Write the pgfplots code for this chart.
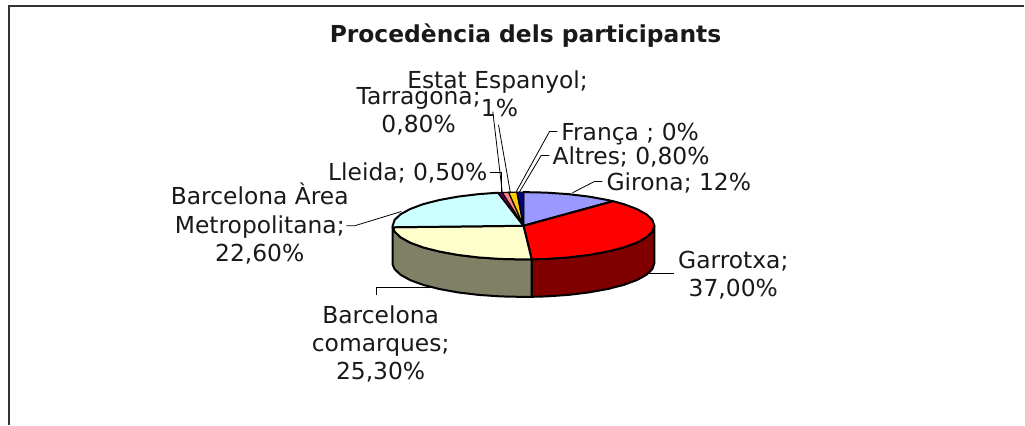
\documentclass[border=0pt]{standalone}
\usepackage{fontspec}
\setmainfont{DejaVu Sans}
\usepackage{pgfplots}
\pgfplotsset{compat=1.18}
\definecolor{cGirona}{HTML}{9999FF}
\definecolor{cGarrotxa}{HTML}{FF0000}
\definecolor{cGarrotxaS}{HTML}{800000}
\definecolor{cCom}{HTML}{FFFFCC}
\definecolor{cComS}{HTML}{808066}
\definecolor{cAM}{HTML}{CCFFFF}
\definecolor{cLleida}{HTML}{660066}
\definecolor{cTarr}{HTML}{FF8080}
\definecolor{cEstat}{HTML}{FFCC00}
\definecolor{cAltres}{HTML}{000080}
\definecolor{cFrame}{HTML}{333333}
\begin{document}
\begin{tikzpicture}[lab/.style={font=\fontsize{23.4}{28}\selectfont,inner sep=0pt,anchor=base,text=black!90}]
\begin{axis}[at={(0,0)},anchor=south west,scale only axis,width=1025pt,height=425pt,
  xmin=0,xmax=1025,ymin=0,ymax=425,y dir=reverse,hide axis,clip=false,
  slice/.style={draw=black,line width=2pt,line join=round},
  leader/.style={draw=black,line width=0.8pt,mark=none}]
% frame
\addplot[draw=cFrame,line width=2pt,mark=none] coordinates {(9,425)(9,6.5)(1025,6.5)};
% sides
\addplot[slice,fill=cGarrotxaS] coordinates {(655,226)(653,231.9)(647.1,237.5)(637.4,242.9)(624.3,247.7)(608.2,251.8)(589.5,255.2)(568.8,257.7)(546.7,259.2)(532.2,259.6)(532.2,297.1)(546.7,296.7)(568.8,295.2)(589.5,292.7)(608.2,289.3)(624.3,285.2)(637.4,280.4)(647.1,275)(653,269.4)(655,263.5)} --cycle;
\addplot[slice,fill=cComS] coordinates {(532.2,259.6)(524,259.7)(501.3,259.2)(479.2,257.7)(458.5,255.2)(439.8,251.8)(423.7,247.7)(410.6,242.9)(400.9,237.5)(395,231.9)(393.1,227.5)(393.1,265)(395,269.4)(400.9,275)(410.6,280.4)(423.7,285.2)(439.8,289.3)(458.5,292.7)(479.2,295.2)(501.3,296.7)(524,297.2)(532.2,297.1)} --cycle;
% top slices
\addplot[slice,fill=cGirona] coordinates {(524,226)(524,192.3)(546.7,192.8)(568.8,194.3)(589.5,196.8)(608.2,200.2)(613.7,201.4)} --cycle;
\addplot[slice,fill=cGarrotxa] coordinates {(524,226)(613.7,201.4)(624.3,204.3)(637.4,209.2)(647.1,214.5)(653,220.1)(655,226)(653,231.9)(647.1,237.5)(637.4,242.9)(624.3,247.7)(608.2,251.8)(589.5,255.2)(568.8,257.7)(546.7,259.2)(532.2,259.6)} --cycle;
\addplot[slice,fill=cCom] coordinates {(524,226)(532.2,259.6)(524,259.7)(501.3,259.2)(479.2,257.7)(458.5,255.2)(439.8,251.8)(423.7,247.7)(410.6,242.9)(400.9,237.5)(395,231.9)(393.1,227.5)} --cycle;
\addplot[slice,fill=cAM] coordinates {(524,226)(393.1,227.5)(393,226)(395,220.1)(400.9,214.5)(410.6,209.2)(423.7,204.3)(439.8,200.2)(458.5,196.8)(479.2,194.3)(498.6,192.9)} --cycle;
\addplot[draw=black,line width=1.2pt,fill=cLleida] coordinates {(524,226)(498.6,192.9)(502.7,192.7)} --cycle;
\addplot[draw=black,line width=1.2pt,fill=cTarr] coordinates {(524,226)(502.7,192.7)(509.2,192.5)} --cycle;
\addplot[draw=black,line width=1.2pt,fill=cEstat] coordinates {(524,226)(509.2,192.5)(517.4,192.3)} --cycle;
\addplot[draw=black,line width=1.2pt,fill=cAltres] coordinates {(524,226)(517.4,192.3)(524,192.3)} --cycle;
% leader lines
\addplot[leader] coordinates {(573,193)(595,181.7)(603,181.7)};
\addplot[leader] coordinates {(520,192)(541.7,155.7)(550,155.7)};
\addplot[leader] coordinates {(516.7,192)(550,131.7)(558,131.7)};
\addplot[leader] coordinates {(499,125)(510.7,192)};
\addplot[leader] coordinates {(493.3,111.7)(502.7,192)};
\addplot[leader] coordinates {(490,172.7)(501.7,172.7)(501.7,192)};
\addplot[leader] coordinates {(346.7,226)(355,226)(401.7,211.7)};
\addplot[leader] coordinates {(433,287.3)(376.7,287.3)(376.7,295)};
\addplot[leader] coordinates {(648,273.5)(675,273.5)};
% labels
\node[lab,font=\fontsize{23.4}{28}\selectfont\bfseries] at (axis cs:526,43) {Procedència dels participants};
\node[lab] at (axis cs:498,89) {Estat Espanyol;};
\node[lab] at (axis cs:500,117) {1\%};
\node[lab] at (axis cs:419,105) {Tarragona;};
\node[lab] at (axis cs:419,133) {0,80\%};
\node[lab,anchor=base west] at (axis cs:561.7,141) {França ; 0\%};
\node[lab,anchor=base west] at (axis cs:553,165) {Altres; 0,80\%};
\node[lab,anchor=base west] at (axis cs:607,191) {Girona; 12\%};
\node[lab,anchor=base east] at (axis cs:488,181) {Lleida; 0,50\%};
\node[lab] at (axis cs:260,205) {Barcelona Àrea};
\node[lab] at (axis cs:260,234) {Metropolitana;};
\node[lab] at (axis cs:260,262) {22,60\%};
\node[lab] at (axis cs:381,324) {Barcelona};
\node[lab] at (axis cs:381,352) {comarques;};
\node[lab] at (axis cs:381,380) {25,30\%};
\node[lab] at (axis cs:734,269) {Garrotxa;};
\node[lab] at (axis cs:734,297) {37,00\%};
\end{axis}
\path[use as bounding box] (0,0) rectangle (1025pt,425pt);
\end{tikzpicture}
\end{document}
